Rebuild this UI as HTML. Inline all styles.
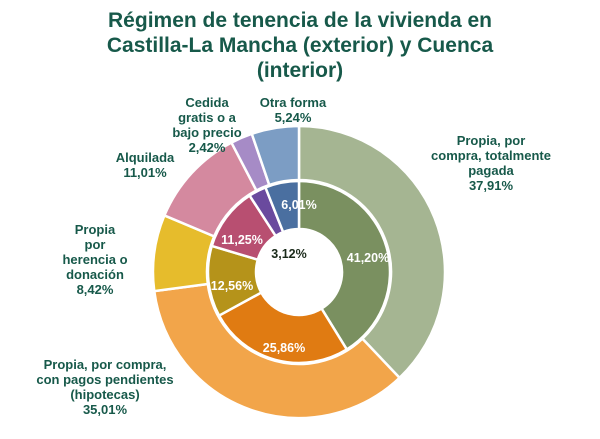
<!DOCTYPE html>
<html><head><meta charset="utf-8"><style>
html,body{margin:0;padding:0;background:#fff;}
#c{position:relative;width:600px;height:439px;overflow:hidden;font-family:"Liberation Sans",sans-serif;}
.t{position:absolute;left:0;width:600px;text-align:center;color:#17594a;font-weight:bold;font-size:21px;line-height:25px;top:8px;}
.l{position:absolute;color:#17594a;font-weight:bold;font-size:13px;line-height:15px;text-align:center;}
</style></head><body><div id="c">
<div class="t">Régimen de tenencia de la vivienda en<br>Castilla-La Mancha (exterior) y Cuenca<br>(interior)</div>
<svg id="s" width="600" height="439" style="position:absolute;left:0;top:0"></svg>
<div class="l" style="left:162px;top:95px;width:90px">Cedida<br>gratis o a<br>bajo precio<br>2,42%</div>
<div class="l" style="left:248px;top:95px;width:90px">Otra forma<br>5,24%</div>
<div class="l" style="left:426px;top:133px;width:130px">Propia, por<br>compra, totalmente<br>pagada<br>37,91%</div>
<div class="l" style="left:100px;top:150px;width:90px">Alquilada<br>11,01%</div>
<div class="l" style="left:50px;top:222px;width:90px">Propia<br>por<br>herencia o<br>donación<br>8,42%</div>
<div class="l" style="left:20px;top:357px;width:170px">Propia, por compra,<br>con pagos pendientes<br>(hipotecas)<br>35,01%</div>
</div>
<script>
var s=document.getElementById('s'),cx=299,cy=272,NS='http://www.w3.org/2000/svg';
function ring(d,cols,r0,r1){var a=0,tot=d.reduce((x,y)=>x+y,0);d.forEach(function(v,i){var a0=a/tot*2*Math.PI,a1=(a+v)/tot*2*Math.PI;a+=v;
function p(r,t){return [cx+r*Math.sin(t),cy-r*Math.cos(t)];}
var L=(a1-a0)>Math.PI?1:0,A=p(r1,a0),B=p(r1,a1),C=p(r0,a1),D=p(r0,a0);
var e=document.createElementNS(NS,'path');e.setAttribute('d','M'+A+'A'+r1+','+r1+' 0 '+L+' 1 '+B+'L'+C+'A'+r0+','+r0+' 0 '+L+' 0 '+D+'Z');
e.setAttribute('fill',cols[i]);e.setAttribute('stroke','#fff');e.setAttribute('stroke-width','2.5');s.appendChild(e);});}
ring([37.91,35.01,8.42,11.01,2.42,5.24],['#a5b592','#f2a54a','#e6bc2c','#d4899f','#a68bc6','#7c9dc4'],92,146);
ring([41.20,25.86,12.56,11.25,3.12,6.01],['#7a9060','#e07b12','#b5931a','#b84f71','#6a4a9e','#4a6fa0'],43,91);
[[368,262,'41,20%','#fff'],[284,352,'25,86%','#fff'],[232,290,'12,56%','#fff'],[242,244,'11,25%','#fff'],[289,258,'3,12%','#1a2a1a'],[299,209,'6,01%','#fff']].forEach(function(q){
var t=document.createElementNS(NS,'text');t.setAttribute('x',q[0]);t.setAttribute('y',q[1]);t.setAttribute('text-anchor','middle');t.setAttribute('font-family','Liberation Sans, sans-serif');t.setAttribute('font-weight','bold');t.setAttribute('font-size','12.5');t.setAttribute('fill',q[3]);t.textContent=q[2];s.appendChild(t);});
</script>
</body></html>
